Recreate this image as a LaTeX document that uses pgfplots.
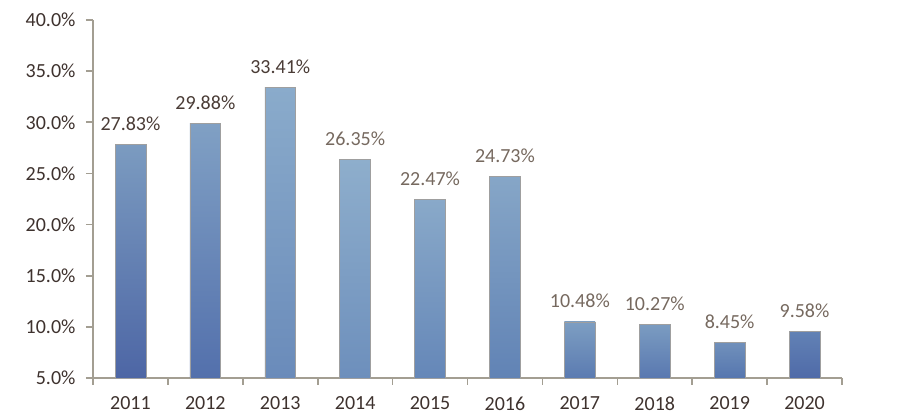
\documentclass[border=0pt]{standalone}
\usepackage{fontspec}
\setmainfont{Carlito}
\usepackage{pgfplots}
\pgfplotsset{compat=1.18}
\definecolor{axisc}{HTML}{A39E92}
\definecolor{tickc}{HTML}{3E322E}
\definecolor{labA}{HTML}{4A3C36}
\definecolor{labB}{HTML}{76695F}
\definecolor{b0}{HTML}{4D66A5}\definecolor{t0}{HTML}{7B9BC0}
\definecolor{b1}{HTML}{5370AC}\definecolor{t1}{HTML}{80A0C4}
\definecolor{b2}{HTML}{6A8BBA}\definecolor{t2}{HTML}{8AABCB}
\definecolor{b3}{HTML}{6D8FBC}\definecolor{t3}{HTML}{8EAECC}
\definecolor{b4}{HTML}{6587B8}\definecolor{t4}{HTML}{89A9C9}
\definecolor{b5}{HTML}{6183B5}\definecolor{t5}{HTML}{86A6C7}
\definecolor{b6}{HTML}{5B7BB1}\definecolor{t6}{HTML}{7D9EC2}
\definecolor{b7}{HTML}{5978B0}\definecolor{t7}{HTML}{7B9CC1}
\definecolor{b8}{HTML}{5676AF}\definecolor{t8}{HTML}{7090BB}
\definecolor{b9}{HTML}{4F6AA8}\definecolor{t9}{HTML}{6282B5}
\newcommand{\fz}{\fontsize{20}{24}\selectfont}
\newcommand{\mybar}[3]{%
\addplot[ybar, bar width=0.41, bar shift=0pt, draw=gray!75, line width=0.6pt,
  bottom color=b#1, top color=t#1,
  nodes near coords={\pgfmathprintnumber[fixed,fixed zerofill,precision=2]{\pgfplotspointmeta}\%},
  nodes near coords style={text=#3, font=\fz, inner sep=0pt, anchor=south, yshift=13.5pt}]
  coordinates {(#1,#2)};}
\begin{document}
\begin{tikzpicture}
\useasboundingbox (0,0) rectangle (900pt,420pt);
\begin{axis}[
  at={(93pt,42pt)}, anchor=south west,
  scale only axis, width=749pt, height=358pt,
  xmin=-0.5, xmax=9.5, ymin=5, ymax=40,
  axis lines*=left,
  axis line style={axisc, line width=1.6pt},
  every tick/.style={axisc, line width=1.6pt},
  tick align=outside, major tick length=0pt, minor tick length=7pt,
  /pgf/number format/assume math mode=true,
  ytick={5,10,...,40},
  minor ytick={5,10,...,40},
  yticklabel={\pgfmathprintnumber[fixed,fixed zerofill,precision=1]{\tick}\%},
  yticklabel style={font=\fz, text=tickc, xshift=-14pt},
  xtick={0,1,...,9},
  xticklabels={2011,2012,2013,2014,2015,2016,2017,2018,2019,2020},
  minor xtick={-0.5,0.5,...,9.5},
  xticklabel style={font=\fz, text=tickc, yshift=-15pt},
  clip=false,
]
\mybar{0}{27.83}{labA}
\mybar{1}{29.88}{labA}
\mybar{2}{33.41}{labA}
\mybar{3}{26.35}{labB}
\mybar{4}{22.47}{labB}
\mybar{5}{24.73}{labB}
\mybar{6}{10.48}{labB}
\mybar{7}{10.27}{labB}
\mybar{8}{8.45}{labB}
\mybar{9}{9.58}{labB}
\end{axis}
\end{tikzpicture}
\end{document}
